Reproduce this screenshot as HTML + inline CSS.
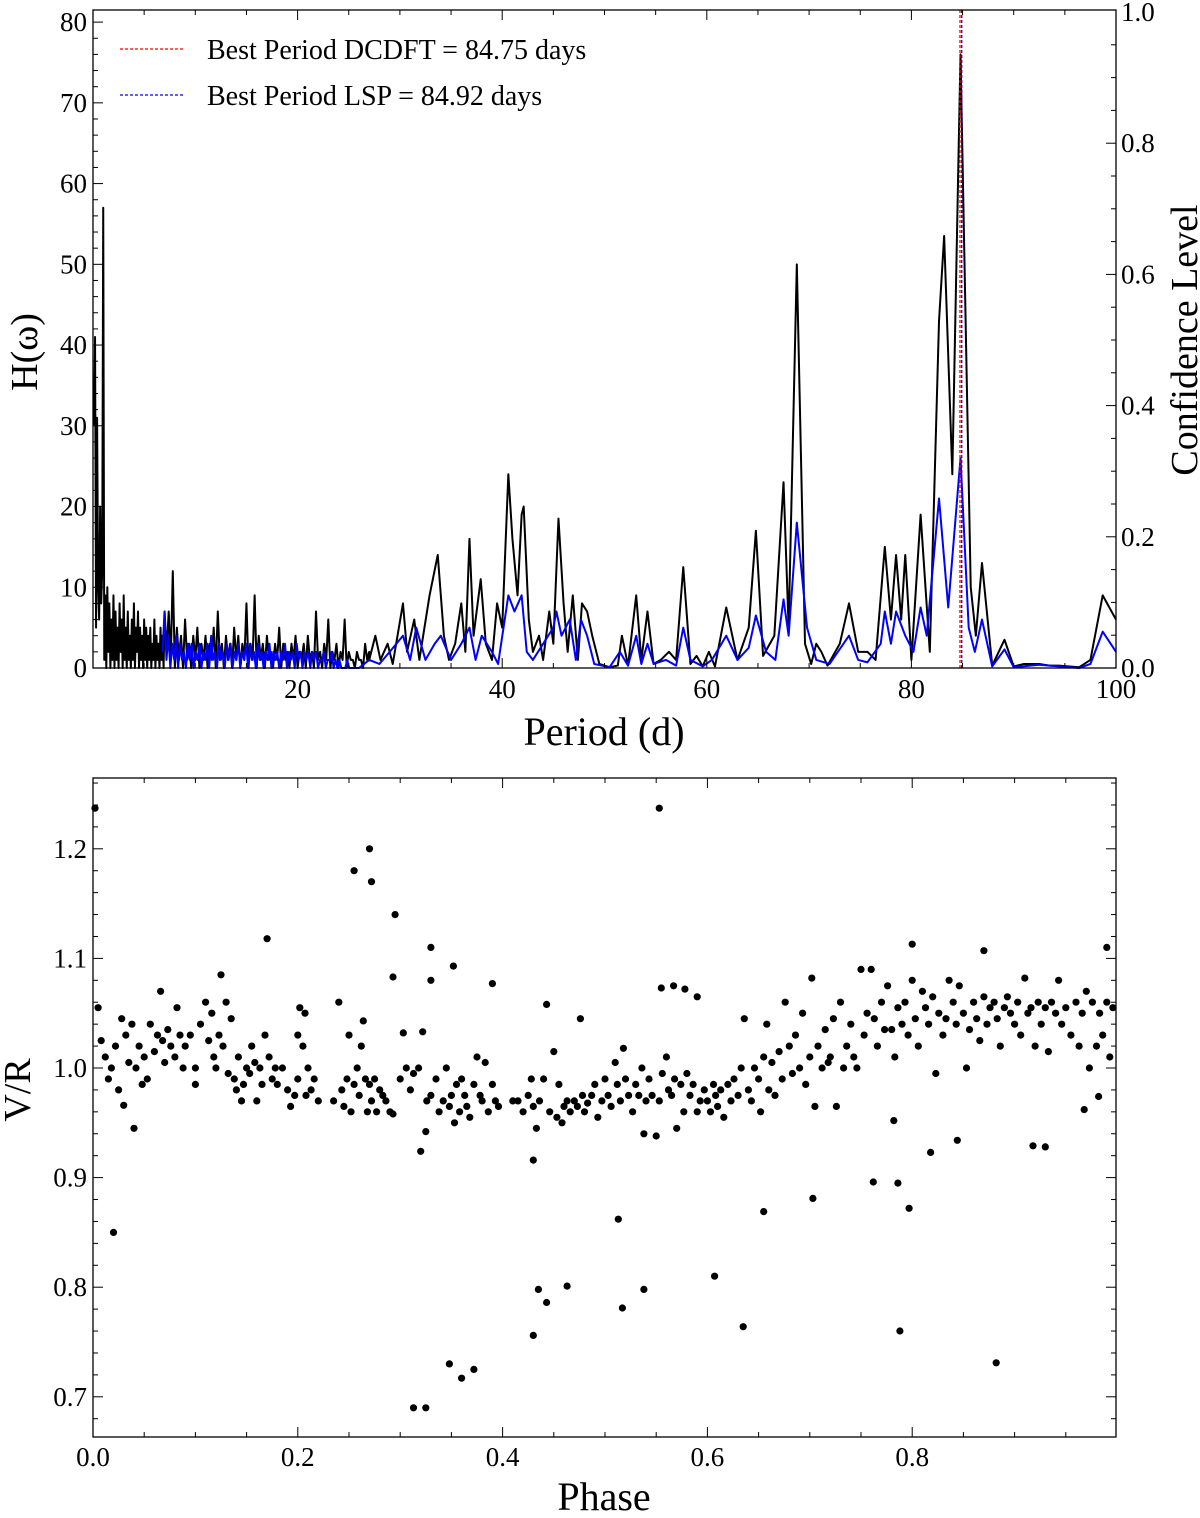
<!DOCTYPE html>
<html><head><meta charset="utf-8"><style>
body{margin:0;background:#fff}
svg text{font-family:"Liberation Serif",serif;fill:#000}
</style></head><body>
<svg id="fig" width="1200" height="1513" viewBox="0 0 1200 1513" xmlns="http://www.w3.org/2000/svg">
<g id="topPanel"></g>
<g id="botPanel"></g>
</svg>
<script>
// ---------- periodogram data ----------
const noiseBlackHead=[30,41,5,31,10,6,20,8,12,57];
const noiseBlackMid=[1,9,0,10,2,8,0,6,1,9,0,7,1,5,0,8,2,6,0,9,1,5,0,7,1,4,0,6,1,8,0,5,2,7,0,5,1,4,0,6,1,5,0,4,1,5,0,3,1,6,0,4,1,3,0,5,1,4,0,7];
const noiseBlackTail=[2,7,1,12,0,5,1,4,0,6,1,3,0,4,1,5,0,3,1,4,
 0,3,1,5,0,7,1,3,0,4,1,3,0,5,1,4,0,3,1,8,
 0,3,1,9,0,4,1,3,0,4,1,2,0,3,1,5,0,3,1,2,
 0,3,1,4,0,2,1,3,0,4,1,2,0,7,1,2,0,3,1,6,
 0,2,1,3,0,2,1,6,0,2,1,1,0,2,1,1,0,3,1,2];
const noiseBlue=[2,7,1,4,0,3,1,4,0,3,1,2,0,3,1,3,0,2,1,3,
 0,2,1,3,0,4,1,2,0,3,1,2,0,3,1,3,0,2,1,3,
 0,2,1,3,0,3,1,2,0,3,1,2,0,2,1,3,0,2,1,2,
 0,2,1,3,0,2,1,2,0,3,1,2,0,2,1,2,0,2,1,2,
 0,1,1,2,0,1,1,2,0,1,0,1,0,0,0,1,0,0,0,0];
const blackP=[27,27.6,28.1,28.8,29.3,30.3,30.7,31.4,31.9,32.9,
 33.7,34.3,34.8,35.4,36,36.4,36.8,37.2,37.9,38.4,
 39,39.5,40,40.6,41,41.5,41.9,42.1,42.6,43,
 43.6,44,44.6,45,45.5,46,46.4,46.9,47.4,47.8,
 48.3,48.8,49.5,50.5,51.3,51.7,52.3,53.1,53.6,54.2,
 54.8,55.5,56.3,57,57.7,58.4,59,59.6,60.2,60.8,
 61.9,63,64.1,64.8,65.5,66.6,67.5,68,68.8,69.6,
 70.2,70.7,71.2,71.8,73,73.9,74.8,75.7,76.5,77.4,
 78,78.5,79,79.4,80,80.9,81.8,82.7,83.2,84,
 84.8,85.8,86.3,86.9,87.9,89.1,90,91,92.5,93.5,
 94.4,96.4,97.5,98.7,100];
const blackH=[1,4,1,3,0.5,8,2,6,1,9,
 14,4,1,3,8,2,16,4,11,3,
 1,8,5,24,16,9,19,20,6,2,
 4,1,7,3,18.5,8,2,9,1,8,
 7,4,0.5,0.1,0.3,4,0.3,9,1,7,
 0.5,1,2,1,12.5,0.5,1.5,0.2,2,0.2,
 7.5,1,5,17,1.5,4,23,5,50,3,
 0.5,3,2,0.3,3,8,2,2,1,15,
 6,14,6,14,1,19,2,43,53.5,24,
 76,10,4,13,0.3,3.5,0.2,0.5,0.5,0.3,
 0.3,0.1,1,9,6];
const blueP=[26,27,28,29,30.3,31,31.6,32.5,33.4,34,
 35,36,36.8,37.4,38,39,39.6,40.6,41.2,41.9,
 42.4,43,44,45,45.3,45.8,46.6,47.2,47.7,48.3,
 49,50.5,51.5,52.3,53.1,53.6,54.2,54.8,56,57,
 57.7,58.4,59.6,60.5,61.9,63,64.1,64.8,65.8,66.7,
 67.5,68,68.8,69.8,70.7,72,73.9,74.8,75.7,77,
 77.4,78,78.5,79.4,80.2,80.9,81.5,82.7,83.6,84.8,
 85.6,86.2,86.9,87.9,89.1,90,92.5,94.4,96.4,97.5,
 98.7,100];
const blueH=[0,1,0.5,2,4,1,5,1,3,4,
 1,3,5,1,4,2,0.5,9,7,9,
 2,1,3,5,7,4,6,1,6,4,
 0.5,0.1,2,0.3,4,0.5,3,0.5,1,0.3,
 5,1,0.2,1,4,1,2.5,6.5,2,1,
 8.5,4,18,5,1,0.5,4,1,0.7,3,
 7,3,7,4,2,7.5,4,21,7.5,26,
 5,2,6,0.2,2.3,0.1,0.4,0.2,0,0.5,
 4.5,2];
const bestDCDFT=84.75, bestLSP=84.92;
const yTicksL=[0,10,20,30,40,50,60,70,80];
const yTicksR=[0.0,0.2,0.4,0.6,0.8,1.0];
const xTicks=[20,40,60,80,100];
// ---------- phase data ----------
const points=[[0.002,1.237],[0.02,0.85],[0.17,1.118],[0.255,1.18],[0.27,1.2],[0.272,1.17],[0.295,1.14],[0.293,1.083],[0.33,1.11],[0.33,1.08],[0.352,1.093],[0.39,1.077],[0.32,0.924],[0.325,0.942],[0.313,0.69],[0.325,0.69],[0.348,0.73],[0.36,0.717],[0.372,0.725],[0.43,0.916],[0.43,0.756],[0.435,0.798],[0.443,0.786],[0.463,0.801],[0.513,0.862],[0.517,0.781],[0.538,0.798],[0.553,1.237],[0.555,1.073],[0.567,1.075],[0.578,1.072],[0.59,1.065],[0.607,0.81],[0.635,0.764],[0.655,0.869],[0.703,0.881],[0.762,0.896],[0.782,0.952],[0.786,0.895],[0.788,0.76],[0.797,0.872],[0.8,1.113],[0.818,0.923],[0.844,0.934],[0.87,1.107],[0.882,0.731],[0.918,0.929],[0.93,0.928],[0.968,0.962],[0.99,1.11],[0.982,0.974],[0.04,0.945],[0.03,0.966],
[0.005,1.055],[0.008,1.025],[0.012,1.01],[0.015,0.99],[0.018,1.0],[0.022,1.02],[0.025,0.98],[0.028,1.045],[0.032,1.03],[0.035,1.005],[0.038,1.04],[0.042,1.0],[0.045,1.02],[0.048,0.985],[0.05,1.01],[0.053,0.99],[0.056,1.04],[0.06,1.015],[0.063,1.03],[0.066,1.07],[0.068,1.025],[0.07,1.005],[0.073,1.035],[0.076,1.02],[0.08,1.01],[0.082,1.055],[0.085,1.03],[0.088,1.0],[0.09,1.02],[0.095,1.03],[0.1,0.985],[0.1,1.0],
[0.105,1.04],[0.11,1.06],[0.113,1.025],[0.116,1.05],[0.118,1.01],[0.12,1.0],[0.123,1.03],[0.125,1.085],[0.127,1.02],[0.13,1.06],[0.132,0.995],[0.135,1.045],[0.138,0.99],[0.14,0.98],[0.142,1.01],[0.145,0.97],[0.147,0.985],[0.15,1.0],[0.153,0.995],[0.155,1.02],[0.158,1.005],[0.16,0.97],[0.163,1.0],[0.165,0.985],[0.168,1.03],[0.172,1.01],[0.175,0.99],[0.178,1.0],[0.18,0.985],[0.185,1.0],[0.19,0.98],[0.193,0.965],[0.197,0.975],[0.2,0.99],[0.2,1.03],[0.202,1.055],[0.205,1.02],[0.207,1.05],[0.208,0.975],[0.21,1.0],[0.213,0.98],[0.216,0.99],[0.22,0.97],[0.235,0.97],[0.24,1.06],[0.243,0.98],[0.245,0.965],[0.248,0.99],[0.25,1.03],[0.252,0.96],
[0.255,0.985],[0.258,1.0],[0.26,0.975],[0.262,1.02],[0.264,1.043],[0.266,0.99],[0.268,0.96],[0.27,0.985],[0.272,0.97],[0.275,0.99],[0.277,0.96],[0.28,0.98],[0.283,0.975],[0.286,0.97],[0.29,0.96],[0.293,0.958],[0.3,0.99],[0.303,1.032],[0.306,1.0],[0.31,0.98],[0.313,0.995],[0.318,1.0],[0.322,1.033],[0.326,0.97],[0.33,0.975],[0.335,0.99],[0.338,0.96],[0.342,0.97],[0.345,1.0],[0.348,0.965],[0.35,0.975],[0.353,0.95],[0.355,0.985],[0.358,0.96],[0.36,0.99],[0.363,0.975],[0.365,0.965],[0.368,0.955],[0.372,0.985],[0.375,1.01],[0.378,0.975],[0.38,0.97],[0.383,1.005],[0.386,0.96],[0.39,0.985],[0.393,0.97],[0.396,0.965],
[0.41,0.97],[0.415,0.97],[0.42,0.96],[0.425,0.975],[0.428,0.99],[0.43,0.965],[0.433,0.945],[0.436,0.97],[0.44,0.99],[0.443,1.058],[0.446,0.96],[0.45,1.015],[0.453,0.955],[0.455,0.985],[0.458,0.95],[0.46,0.965],[0.463,0.97],[0.466,0.96],[0.47,0.97],[0.473,0.965],[0.476,1.045],[0.478,0.975],[0.48,0.96],[0.483,0.968],[0.487,0.975],[0.49,0.985],[0.493,0.955],[0.497,0.97],[0.5,0.99],[0.503,0.975],[0.506,0.965],[0.51,1.005],[0.512,0.985],[0.515,0.97],[0.518,1.018],[0.52,0.99],[0.523,0.975],[0.527,0.96],[0.53,0.985],[0.533,0.975],[0.536,1.0],[0.538,0.94],[0.54,0.97],[0.543,0.99],[0.546,0.975],[0.55,0.938],[0.553,0.97],[0.556,0.995],[0.56,1.01],[0.562,0.98],[0.565,0.975],[0.568,0.99],[0.57,0.945],[0.574,0.985],[0.577,0.96],[0.58,0.995],[0.583,0.975],[0.586,0.985],[0.59,0.96],[0.593,0.97],[0.597,0.98],
[0.6,0.97],[0.603,0.96],[0.606,0.985],[0.608,0.975],[0.61,0.965],[0.613,0.98],[0.616,0.955],[0.62,0.985],[0.623,0.97],[0.626,0.99],[0.63,0.975],[0.633,1.0],[0.636,1.045],[0.64,0.98],[0.643,0.97],[0.646,1.0],[0.65,0.99],[0.652,0.96],[0.655,1.01],[0.658,1.04],[0.66,0.98],[0.663,1.005],[0.666,0.975],[0.67,1.015],[0.673,0.99],[0.676,1.06],[0.68,1.02],[0.683,0.995],[0.686,1.03],[0.69,1.0],[0.693,1.05],[0.696,0.985],[0.7,1.01],
[0.702,1.082],[0.705,0.965],[0.708,1.02],[0.712,1.0],[0.715,1.035],[0.718,1.005],[0.72,1.01],[0.723,1.045],[0.726,0.965],[0.73,1.06],[0.733,1.0],[0.736,1.02],[0.74,1.04],[0.743,1.01],[0.746,1.0],[0.75,1.09],[0.753,1.03],[0.756,1.05],[0.76,1.09],[0.763,1.045],[0.766,1.02],[0.77,1.06],[0.773,1.035],[0.776,1.075],[0.78,1.035],[0.783,1.01],[0.786,1.055],[0.79,1.04],[0.793,1.06],[0.796,1.03],[0.8,1.08],[0.803,1.045],[0.806,1.02],[0.81,1.07],[0.813,1.055],[0.816,1.04],[0.82,1.065],[0.823,0.995],[0.826,1.05],[0.83,1.03],[0.833,1.045],[0.836,1.08],[0.84,1.06],[0.843,1.04],[0.846,1.075],[0.85,1.05],[0.853,1.0],[0.856,1.035],[0.86,1.06],[0.863,1.045],[0.866,1.025],[0.87,1.065],[0.873,1.04],[0.876,1.055],[0.88,1.06],[0.883,1.045],[0.886,1.02],[0.89,1.055],[0.893,1.065],[0.896,1.05],[0.9,1.04],[0.903,1.06],[0.906,1.03],[0.91,1.082],[0.913,1.05],[0.916,1.055],[0.92,1.02],[0.923,1.06],[0.926,1.04],[0.93,1.055],[0.933,1.015],[0.936,1.06],[0.94,1.05],[0.943,1.08],[0.946,1.04],[0.95,1.055],[0.955,1.03],[0.96,1.06],[0.963,1.02],[0.966,1.05],[0.97,1.07],[0.973,1.0],[0.976,1.06],[0.98,1.02],[0.983,1.05],[0.986,1.03],[0.99,1.06],[0.993,1.01],[0.996,1.055]];
const phaseTicks=[0.0,0.2,0.4,0.6,0.8];
const vrTicks=[0.7,0.8,0.9,1.0,1.1,1.2];

const NS='http://www.w3.org/2000/svg';
function mk(parent,tag,attrs){const e=document.createElementNS(NS,tag);for(const k in attrs)e.setAttribute(k,attrs[k]);parent.appendChild(e);return e;}

// ---------- top panel ----------
const topG=document.getElementById('topPanel');
const L=93,R=1116,T=10,B=668;
const px=p=>L+(p/100)*(R-L);
const py=h=>B-(h/81.5)*(B-T);
const pyR=c=>B-c*(B-12);
function poly(ps,hs,color,name){
  let d='';ps.forEach((p,i)=>{d+=(i?'L':'M')+px(p).toFixed(2)+' '+py(hs[i]).toFixed(2);});
  const e=mk(topG,'path',{d:d,fill:'none',stroke:color,'stroke-width':2,'stroke-linejoin':'round'});
  
  
}
let bp=[],bh=[];
noiseBlackHead.forEach((v,i)=>{bp.push(0.1*(i+1));bh.push(v);});
noiseBlackMid.forEach((v,i)=>{bp.push(1.0+0.1*(i+1));bh.push(v);});
noiseBlackTail.forEach((v,i)=>{bp.push(7.0+0.2*(i+1));bh.push(v);});
bp=bp.concat(blackP);bh=bh.concat(blackH);
let up=[],uh=[];
noiseBlue.forEach((v,i)=>{up.push(6.8+0.19*i);uh.push(v);});
up=up.concat(blueP);uh=uh.concat(blueH);
poly(bp,bh,'#000','dcdft-curve');
poly(up,uh,'#0000ff','lsp-curve');
let e;
e=mk(topG,'line',{x1:px(bestDCDFT),x2:px(bestDCDFT),y1:T,y2:B,stroke:'#ff0000','stroke-width':1.3,'stroke-dasharray':'3 2'});

e=mk(topG,'line',{x1:px(bestLSP),x2:px(bestLSP),y1:T,y2:B,stroke:'#0000ff','stroke-width':1.3,'stroke-dasharray':'3 2'});

e=mk(topG,'rect',{x:L,y:T,width:R-L,height:B-T,fill:'none',stroke:'#000','stroke-width':1.3});

for(let p=5;p<100;p+=5){const M=p%20===0;const l=M?10:5;
  mk(topG,'line',{x1:px(p),x2:px(p),y1:B,y2:B-l,stroke:'#000','stroke-width':1});
  mk(topG,'line',{x1:px(p),x2:px(p),y1:T,y2:T+l,stroke:'#000','stroke-width':1});}
for(let h=2;h<81;h+=2){const M=h%10===0;mk(topG,'line',{x1:L,x2:L+(M?10:5),y1:py(h),y2:py(h),stroke:'#000','stroke-width':1});}
for(let i=1;i<20;i++){const c=i*0.05;const M=i%4===0;mk(topG,'line',{x1:R,x2:R-(M?10:5),y1:pyR(c),y2:pyR(c),stroke:'#000','stroke-width':1});}
xTicks.forEach(t=>{const e=mk(topG,'text',{x:px(t),y:698,'font-size':27,'text-anchor':'middle'});e.textContent=t;
  });
yTicksL.forEach(t=>{const e=mk(topG,'text',{x:87,y:py(t)+9,'font-size':27,'text-anchor':'end'});e.textContent=t;
  });
yTicksR.forEach(t=>{const e=mk(topG,'text',{x:1121,y:pyR(t)+9,'font-size':27});e.textContent=t.toFixed(1);
  });
e=mk(topG,'text',{x:604,y:745,'font-size':40,'text-anchor':'middle'});e.textContent='Period (d)';

e=mk(topG,'text',{x:0,y:0,'font-size':38,'text-anchor':'middle',transform:'translate(37,352) rotate(-90)'});e.textContent='H(ω)';

e=mk(topG,'text',{x:0,y:0,'font-size':38,'text-anchor':'middle',transform:'translate(1197,340) rotate(-90)'});e.textContent='Confidence Level';

e=mk(topG,'line',{x1:120,x2:183,y1:49,y2:49,stroke:'#ff0000','stroke-width':1.3,'stroke-dasharray':'3 2'});

e=mk(topG,'text',{x:207,y:59,'font-size':28});e.textContent='Best Period DCDFT = 84.75 days';

e=mk(topG,'line',{x1:120,x2:183,y1:95,y2:95,stroke:'#0000ff','stroke-width':1.3,'stroke-dasharray':'3 2'});

e=mk(topG,'text',{x:207,y:105,'font-size':28});e.textContent='Best Period LSP = 84.92 days';


// ---------- bottom panel ----------
const botG=document.getElementById('botPanel');
const L2=93,R2=1116,T2=778,B2=1437;
const qx=f=>L2+f*1024;
const qy=v=>1068-(v-1.0)*1096;
points.forEach(pt=>{const c=mk(botG,'circle',{cx:qx(pt[0]).toFixed(1),cy:qy(pt[1]).toFixed(1),r:3.6,fill:'#000'});
  
  });
e=mk(botG,'rect',{x:L2,y:T2,width:R2-L2,height:B2-T2,fill:'none',stroke:'#000','stroke-width':1.3});

for(let i=1;i<20;i++){const f=i*0.05;const M=i%4===0;const l=M?10:5;
  mk(botG,'line',{x1:qx(f),x2:qx(f),y1:B2,y2:B2-l,stroke:'#000','stroke-width':1});
  mk(botG,'line',{x1:qx(f),x2:qx(f),y1:T2,y2:T2+l,stroke:'#000','stroke-width':1});}
for(let i=34;i<=63;i++){const v=i*0.02;const M=i%5===0;const l=M?10:5;
  mk(botG,'line',{x1:L2,x2:L2+l,y1:qy(v),y2:qy(v),stroke:'#000','stroke-width':1});
  mk(botG,'line',{x1:R2,x2:R2-l,y1:qy(v),y2:qy(v),stroke:'#000','stroke-width':1});}
phaseTicks.forEach(t=>{const e=mk(botG,'text',{x:qx(t),y:1466,'font-size':27,'text-anchor':'middle'});e.textContent=t.toFixed(1);
  });
vrTicks.forEach(t=>{const e=mk(botG,'text',{x:87,y:qy(t)+9,'font-size':27,'text-anchor':'end'});e.textContent=t.toFixed(1);
  });
e=mk(botG,'text',{x:604,y:1510,'font-size':40,'text-anchor':'middle'});e.textContent='Phase';

e=mk(botG,'text',{x:0,y:0,'font-size':38,'text-anchor':'middle',transform:'translate(30,1090) rotate(-90)'});e.textContent='V/R';

</script>
</body></html>
